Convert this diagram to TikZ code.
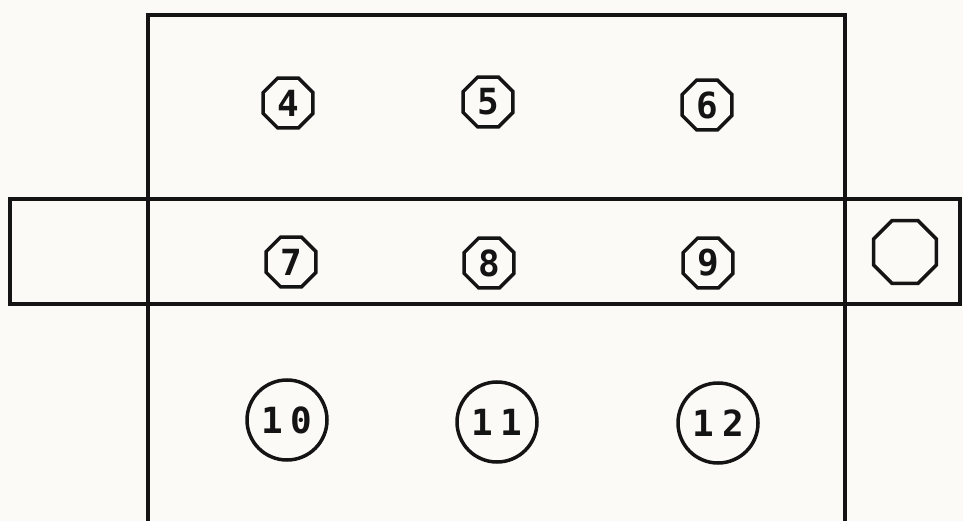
\documentclass[tikz,border=0pt]{standalone}
\usepackage{fontspec}
\setmainfont{DejaVu Sans Mono}
\usetikzlibrary{shapes.geometric}
\definecolor{paper}{HTML}{FBFAF7}
\begin{document}
\begin{tikzpicture}[x=1pt,y=-1pt,
  ink/.style={line width=3.5pt,color=black!92},
  digits/.style={font=\fontsize{36}{36}\selectfont\bfseries},
  smallhole/.style={ink,draw,regular polygon,regular polygon sides=8,minimum size=54pt,inner sep=0pt,digits},
  bighole/.style={ink,draw,circle,minimum size=80pt,inner sep=0pt,digits},
  emptyhole/.style={ink,draw,regular polygon,regular polygon sides=8,minimum size=68pt,inner sep=0pt}]
\fill[paper] (0,0) rectangle (963,521);
\useasboundingbox (0,0) rectangle (963,521);
% big frame (bottom edge out of view)
\coordinate (fbl) at (148,523);
\coordinate (ftl) at (148,15);
\coordinate (ftr) at (845,15);
\coordinate (fbr) at (845,523);
\draw[ink] (fbl) -- (ftl) -- (ftr) -- (fbr);
% horizontal band
\coordinate (btl) at (10,199);
\coordinate (bbr) at (960,304);
\draw[ink] (btl) rectangle (bbr);
% holes
\node[smallhole] (h4) at (288,103) {4};
\node[smallhole] (h5) at (488,102) {5};
\node[smallhole] (h6) at (707,105) {6};
\node[smallhole] (h7) at (291,262) {7};
\node[smallhole] (h8) at (489,263) {8};
\node[smallhole] (h9) at (708,263) {9};
\node[bighole] (h10) at (287,420) {1\hspace{8pt}0};
\node[bighole] (h11) at (497,422) {1\hspace{8pt}1};
\node[bighole] (h12) at (718,423) {1\hspace{8pt}2};
\node[emptyhole] (h0) at (905,252) {};
\end{tikzpicture}
\end{document}
